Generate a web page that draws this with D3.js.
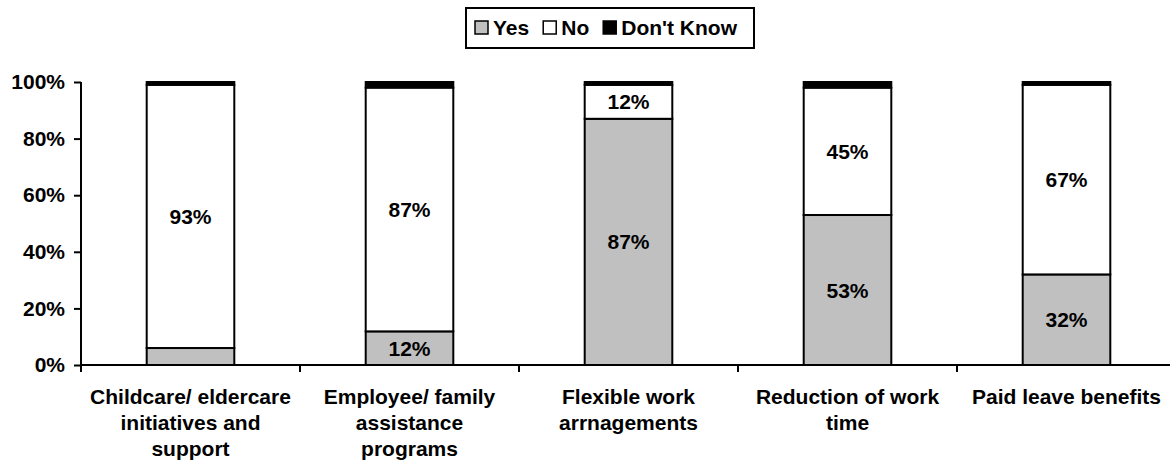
<!DOCTYPE html>
<html>
<head>
<meta charset="utf-8">
<script src="https://cdn.jsdelivr.net/npm/d3@7"></script>
<style>
  html, body { margin: 0; padding: 0; background: #fff; }
  svg { display: block; }
  text { font-family: "Liberation Sans", Arial, sans-serif; font-weight: bold; fill: #000; }
</style>
</head>
<body>
<svg id="chart" width="1170" height="466"></svg>
<script>
// ---- Data ----
const categories = [
  "Childcare/ eldercare initiatives and support",
  "Employee/ family assistance programs",
  "Flexible work arrnagements",
  "Reduction of work time",
  "Paid leave benefits"
];
const seriesNames = ["Yes", "No", "Don't Know"];
const yesValues = [6, 12, 87, 53, 32];
const noValues = [93, 87, 12, 45, 67];
const dontKnowValues = [1, 2, 1, 2, 1];
const yTickValues = [0, 0.2, 0.4, 0.6, 0.8, 1.0];
const seriesColors = ["#C0C0C0", "#FFFFFF", "#000000"];

// ---- Build table ----
const table = categories.map((c, i) => ({
  category: c,
  "Yes": yesValues[i],
  "No": noValues[i],
  "Don't Know": dontKnowValues[i]
}));

const stack = d3.stack().keys(seriesNames).offset(d3.stackOffsetExpand);
const stacked = stack(table);

const svg = d3.select("#chart");
const fontSize = 21;

const x = d3.scaleBand()
  .domain(categories)
  .range([81, 1176])
  .paddingInner(0.6)
  .paddingOuter(0.3);

const y = d3.scaleLinear().domain([0, 1]).range([365, 82]);

// ---- Bars ----
const layers = svg.append("g").selectAll("g")
  .data(stacked)
  .join("g")
  .attr("fill", (d, i) => seriesColors[i]);

layers.selectAll("rect")
  .data(d => d)
  .join("rect")
  .attr("x", d => x(d.data.category))
  .attr("width", x.bandwidth())
  .attr("y", d => y(d[1]))
  .attr("height", d => y(d[0]) - y(d[1]))
  .attr("stroke", "#000")
  .attr("stroke-width", 2);

// ---- Value labels ----
stacked.forEach((layer) => {
  const key = layer.key;
  svg.append("g").selectAll("text")
    .data(layer.filter(d => d.data[key] >= 10))
    .join("text")
    .attr("x", d => x(d.data.category) + x.bandwidth() / 2)
    .attr("y", d => (y(d[0]) + y(d[1])) / 2)
    .attr("dy", "0.36em")
    .attr("text-anchor", "middle")
    .style("font-size", fontSize + "px")
    .text(d => d.data[key] + "%");
});

// ---- Y axis ----
const yAxis = svg.append("g")
  .attr("transform", "translate(81,0)")
  .call(d3.axisLeft(y).tickValues(yTickValues).tickFormat(d3.format(".0%")).tickSize(7).tickPadding(9));
yAxis.select(".domain").attr("stroke", "#000").attr("stroke-width", 2).attr("d", "M0,82V372");
yAxis.selectAll(".tick line").attr("stroke", "#000").attr("stroke-width", 2);
yAxis.selectAll(".tick text").style("font-size", fontSize + "px").attr("font-family", null).attr("fill", "#000");

// ---- X axis ----
const xAxisG = svg.append("g");
xAxisG.append("line")
  .attr("x1", 80).attr("x2", 1170)
  .attr("y1", y(0)).attr("y2", y(0))
  .attr("stroke", "#000").attr("stroke-width", 2);
// category boundary ticks
xAxisG.selectAll("line.tick")
  .data(categories.slice(1))
  .join("line")
  .attr("class", "tick")
  .attr("x1", c => x(c) - (x.step() - x.bandwidth()) / 2)
  .attr("x2", c => x(c) - (x.step() - x.bandwidth()) / 2)
  .attr("y1", y(0)).attr("y2", y(0) + 7)
  .attr("stroke", "#000").attr("stroke-width", 2);

// category labels with wrapping
const maxWidth = 207;
const lineHeight = 26;
categories.forEach(c => {
  const t = svg.append("text")
    .attr("text-anchor", "middle")
    .style("font-size", fontSize + "px");
  const cx = x(c) + x.bandwidth() / 2;
  const words = c.split(" ");
  let lines = [];
  let line = [];
  const tspan = t.append("tspan");
  words.forEach(w => {
    line.push(w);
    tspan.text(line.join(" "));
    if (tspan.node().getComputedTextLength() > maxWidth && line.length > 1) {
      line.pop();
      lines.push(line.join(" "));
      line = [w];
    }
  });
  lines.push(line.join(" "));
  tspan.remove();
  lines.forEach((l, i) => {
    t.append("tspan")
      .attr("x", cx)
      .attr("y", 404 + i * lineHeight)
      .text(l);
  });
});

// ---- Legend ----
const legend = svg.append("g");
legend.append("rect")
  .attr("x", 466).attr("y", 8)
  .attr("width", 288).attr("height", 40)
  .attr("fill", "#fff").attr("stroke", "#000").attr("stroke-width", 2);
let lx = 475;
seriesNames.forEach((name, i) => {
  legend.append("rect")
    .attr("x", lx).attr("y", 21)
    .attr("width", 13).attr("height", 13)
    .attr("fill", seriesColors[i])
    .attr("stroke", "#000").attr("stroke-width", 1.5);
  const t = legend.append("text")
    .attr("x", lx + 18).attr("y", 35)
    .style("font-size", fontSize + "px")
    .text(name);
  lx = lx + 18 + t.node().getComputedTextLength() + 14;
});
</script>
</body>
</html>
